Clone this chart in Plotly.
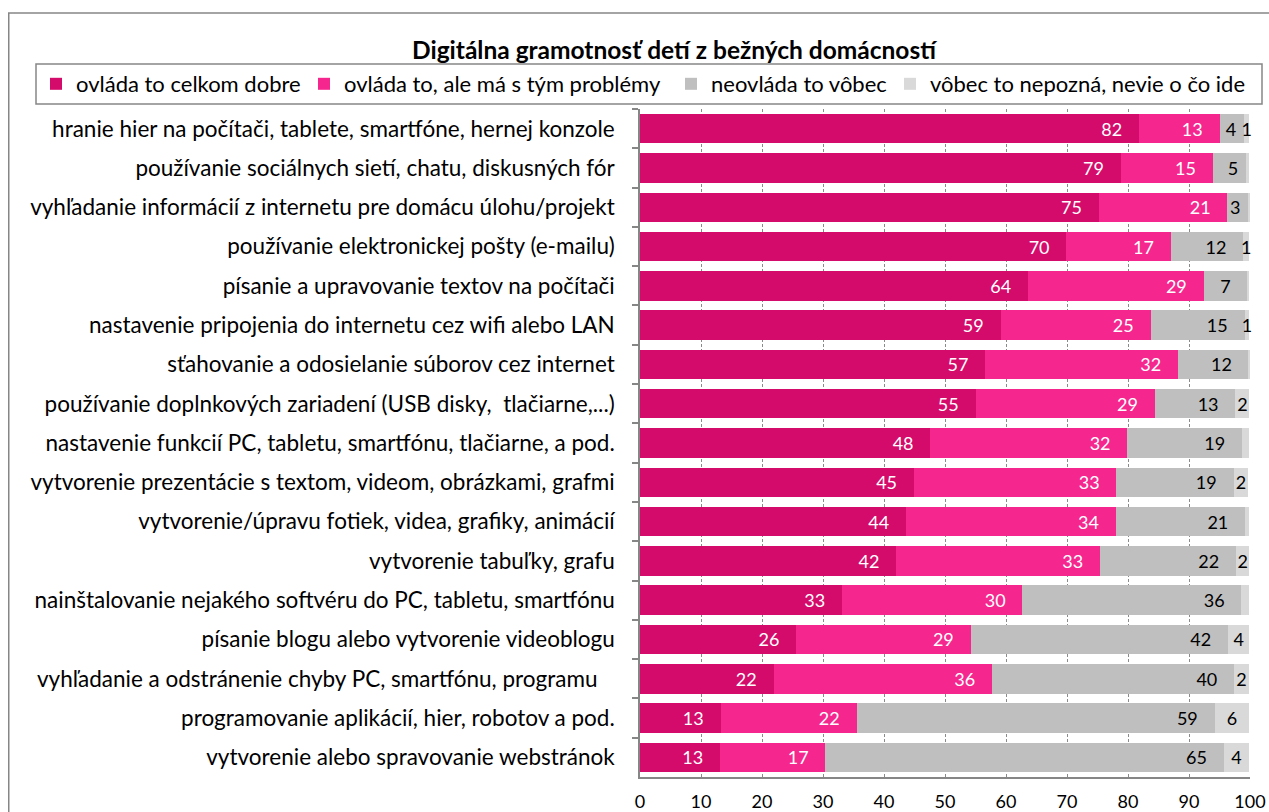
import plotly.graph_objects as go

categories = [
    "hranie hier na počítači, tablete, smartfóne, hernej konzole",
    "používanie sociálnych sietí, chatu, diskusných fór",
    "vyhľadanie informácií z internetu pre domácu úlohu/projekt",
    "používanie elektronickej pošty (e-mailu)",
    "písanie a upravovanie textov na počítači",
    "nastavenie pripojenia do internetu cez wifi alebo LAN",
    "sťahovanie a odosielanie súborov cez internet",
    "používanie doplnkových zariadení (USB disky,  tlačiarne,...)",
    "nastavenie funkcií PC, tabletu, smartfónu, tlačiarne, a pod.",
    "vytvorenie prezentácie s textom, videom, obrázkami, grafmi",
    "vytvorenie/úpravu fotiek, videa, grafiky, animácií",
    "vytvorenie tabuľky, grafu",
    "nainštalovanie nejakého softvéru do PC, tabletu, smartfónu",
    "písanie blogu alebo vytvorenie videoblogu",
    "vyhľadanie a odstránenie chyby PC, smartfónu, programu   ",
    "programovanie aplikácií, hier, robotov a pod.",
    "vytvorenie alebo spravovanie webstránok",
]

series_names = [
    "ovláda to celkom dobre",
    "ovláda to, ale má s tým problémy",
    "neovláda to vôbec",
    "vôbec to nepozná, nevie o čo ide",
]

ovlada_dobre = [81.8, 78.8, 75.2, 69.9, 63.6, 59.1, 56.6, 55.0, 47.6, 44.9, 43.6, 42.0, 33.1, 25.6, 21.9, 13.2, 13.1]
ovlada_problemy = [13.2, 15.1, 21.1, 17.1, 28.8, 24.6, 31.6, 29.4, 32.3, 33.2, 34.4, 33.4, 29.6, 28.6, 35.8, 22.3, 17.3]
neovlada = [4.0, 5.4, 3.4, 11.9, 7.2, 15.4, 11.6, 13.2, 18.8, 19.2, 21.2, 22.3, 35.9, 42.2, 39.7, 58.7, 65.3]
nepozna = [0.9, 0.6, 0.2, 1.0, 0.3, 0.8, 0.1, 2.3, 1.2, 2.4, 0.7, 2.2, 1.3, 3.5, 2.4, 5.7, 4.2]
nepozna_labeled = [True, False, False, True, False, True, False, True, False, True, False, True, False, True, True, True, True]

x_ticks = [0, 10, 20, 30, 40, 50, 60, 70, 80, 90, 100]

colors = ["#D50B6B", "#F5278E", "#BFBFBF", "#D9D9D9"]
text_colors = ["white", "white", "black", "black"]

W, H = 1269, 812
ML, MT = 640, 109
PW, PH = 610, 668
MR, MB = W - ML - PW, H - MT - PH
FONT = "Lato"
NB = "\u00a0"


def px_x(px):
    return (px - ML) / PW


def px_y(py):
    return 1 - (py - MT) / PH


def pad(v):
    # right padding inside the segment, like Excel's "inside end" labels
    return NB * (1 if v < 6 else 3)


legend_text_starts = [76, 344, 711, 930]
legend_ids = ["legend", "legend2", "legend3", "legend4"]

fig = go.Figure()
all_vals = [ovlada_dobre, ovlada_problemy, neovlada, nepozna]
for k, (name, vals) in enumerate(zip(series_names, all_vals)):
    if k == 3:
        texts = [f"{v:.0f}" if show else "" for v, show in zip(vals, nepozna_labeled)]
    else:
        texts = [f"{v:.0f}" + pad(v) for v in vals]
    fig.add_trace(go.Bar(
        y=categories, x=vals, name=name, orientation="h",
        marker=dict(color=colors[k], line=dict(width=0)),
        text=texts, textposition="inside",
        insidetextanchor="end" if k < 3 else "middle",
        textangle=0, cliponaxis=False,
        textfont=dict(color=text_colors[k], size=18, family=FONT),
        hoverinfo="skip", legend=legend_ids[k],
    ))

legend_common = dict(orientation="h", xref="container", yref="container",
                     xanchor="left", yanchor="middle", y=1 - 84 / H,
                     font=dict(size=22, family=FONT, color="black"),
                     bgcolor="rgba(0,0,0,0)", borderwidth=0, itemclick=False,
                     itemdoubleclick=False)
legend_layout = {}
for lid, ts in zip(legend_ids, legend_text_starts):
    legend_layout[lid] = dict(legend_common, x=(ts - 40) / W)

fig.update_layout(
    barmode="stack", bargap=0.25,
    width=W, height=H,
    margin=dict(l=ML, r=MR, t=MT, b=MB, autoexpand=False),
    paper_bgcolor="white", plot_bgcolor="white",
    font=dict(family=FONT, size=22, color="black"),
    uniformtext=dict(minsize=18, mode="show"),
    title=dict(text="<b>Digitálna gramotnosť detí z bežných domácností</b>",
               x=674 / W, xref="container", xanchor="center",
               y=1 - 50 / H, yref="container", yanchor="middle",
               font=dict(size=24.5, family=FONT, color="black")),
    showlegend=True,
    **legend_layout,
)

fig.update_xaxes(range=[0, 100], tickvals=x_ticks, ticktext=[str(t) for t in x_ticks],
                 showgrid=True, gridcolor="#8A8A8A", griddash="3px,2px", gridwidth=1,
                 showline=True, linecolor="#868686", linewidth=1.5, ticks="",
                 zeroline=False, tickfont=dict(size=18, family=FONT), ticklabelstandoff=8,
                 fixedrange=True)
fig.update_yaxes(autorange="reversed", showline=True, linecolor="#868686", linewidth=1.5,
                 ticks="outside", tickson="boundaries", ticklen=6, tickcolor="#868686",
                 tickwidth=1.5, showgrid=False, ticklabelstandoff=19,
                 tickfont=dict(size=22.5, family=FONT), fixedrange=True)

# outer chart border and legend box
fig.add_shape(type="rect", xref="paper", yref="paper",
              x0=px_x(8.75), x1=px_x(1300), y0=px_y(900), y1=px_y(13),
              line=dict(color="#868686", width=1.5), fillcolor="rgba(0,0,0,0)", layer="below")
fig.add_shape(type="rect", xref="paper", yref="paper",
              x0=px_x(36), x1=px_x(1262), y0=px_y(104), y1=px_y(64),
              line=dict(color="#868686", width=1.5), fillcolor="rgba(0,0,0,0)", layer="below")

fig.write_html("out.html", config={"displayModeBar": False},
               post_script="document.body.style.margin='0';document.body.style.overflow='hidden';")
